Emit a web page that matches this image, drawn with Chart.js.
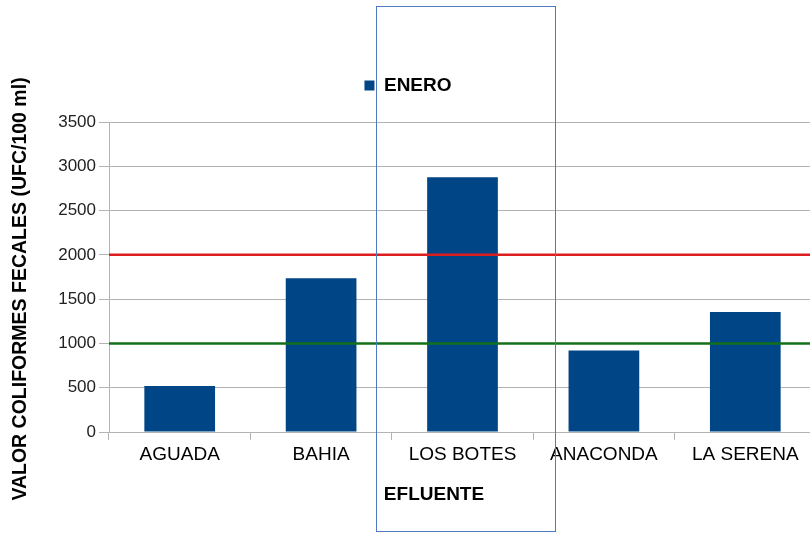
<!DOCTYPE html>
<html>
<head>
<meta charset="utf-8">
<script src="https://cdn.jsdelivr.net/npm/chart.js@4.4.1/dist/chart.umd.min.js"></script>
<style>
  html, body { margin: 0; padding: 0; background: #fff; overflow: hidden; }
  #wrap { position: relative; width: 816px; height: 533px; }
  #frame { position: absolute; left: 376px; top: 6px; width: 178px; height: 524px; border: 1px solid #4f7ac3; pointer-events: none; }
</style>
</head>
<body>
<div id="wrap">
  <canvas id="chart" width="816" height="533"></canvas>
  <div id="frame"></div>
</div>
<script>
// Effluent sampling points and fecal coliform counts for January
const categories = ['AGUADA', 'BAHIA', 'LOS BOTES', 'ANACONDA', 'LA SERENA'];
const seriesName = 'ENERO';
const eneroValues = [520, 1735, 2875, 920, 1355];
// Reference limits drawn as horizontal lines
const limitValues = [2000, 1000];
const limitColors = ['#dc1e1e', '#13701a'];
const yTicks = [0, 500, 1000, 1500, 2000, 2500, 3000, 3500];

const FONT = '"Liberation Sans", Arial, sans-serif';

const limitLines = {
  id: 'limitLines',
  afterDatasetsDraw(chart) {
    const { ctx, chartArea, scales } = chart;
    ctx.save();
    ctx.lineWidth = 2.5;
    limitValues.forEach((v, i) => {
      const y = scales.y.getPixelForValue(v);
      ctx.strokeStyle = limitColors[i];
      ctx.beginPath();
      ctx.moveTo(chartArea.left, y);
      ctx.lineTo(chartArea.right, y);
      ctx.stroke();
    });
    ctx.restore();
  }
};

const axisTitles = {
  id: 'axisTitles',
  afterDraw(chart) {
    const { ctx, chartArea } = chart;
    ctx.save();
    ctx.fillStyle = '#000';
    ctx.textAlign = 'center';
    ctx.textBaseline = 'middle';
    ctx.font = 'bold 19.5px ' + FONT;
    ctx.translate(chartArea.left - 88, (chartArea.top + chartArea.bottom) / 2 + 12);
    ctx.rotate(-Math.PI / 2);
    ctx.fillText('VALOR COLIFORMES FECALES (UFC/100 ml)', 0, 0);
    ctx.restore();

    ctx.save();
    ctx.fillStyle = '#000';
    ctx.textAlign = 'center';
    ctx.textBaseline = 'middle';
    ctx.font = 'bold 19px ' + FONT;
    ctx.fillText('EFLUENTE', 434, chartArea.bottom + 63);
    ctx.restore();
  }
};

new Chart(document.getElementById('chart'), {
  type: 'bar',
  data: {
    labels: categories,
    datasets: [{
      label: seriesName,
      data: eneroValues,
      backgroundColor: '#004586',
      borderWidth: 0,
      barPercentage: 0.5,
      categoryPercentage: 1.0
    }]
  },
  options: {
    responsive: false,
    animation: false,
    devicePixelRatio: 1,
    layout: { padding: { top: 41, right: 0, left: 0, bottom: 0 } },
    plugins: {
      legend: {
        position: 'top',
        labels: {
          boxWidth: 10,
          boxHeight: 10,
          padding: 35,
          color: '#000',
          font: { family: FONT, size: 19, weight: 'bold' }
        }
      },
      // empty spacer between the legend and the plot
      subtitle: {
        display: true,
        text: '',
        position: 'top',
        weight: 500,
        font: { size: 10 },
        padding: { top: 5, bottom: 0 }
      },
      tooltip: { enabled: false }
    },
    scales: {
      x: {
        offset: true,
        grid: { offset: true, drawOnChartArea: false, drawTicks: true, tickLength: 8, color: '#b3b3b3' },
        border: { color: '#b3b3b3' },
        ticks: { color: '#000', padding: 3, font: { family: FONT, size: 19 }, maxRotation: 0 },
        afterFit(scale) { scale.height = 101; }
      },
      y: {
        min: 0,
        max: 3500,
        afterBuildTicks(scale) { scale.ticks = yTicks.map(v => ({ value: v })); },
        grid: { color: '#b3b3b3', tickLength: 10, lineWidth: 1 },
        border: { color: '#b3b3b3' },
        ticks: { color: '#222', padding: 3, font: { family: FONT, size: 17 }, callback: v => String(v) },
        afterFit(scale) { scale.width = 109; }
      }
    }
  },
  plugins: [limitLines, axisTitles]
});
</script>
</body>
</html>
